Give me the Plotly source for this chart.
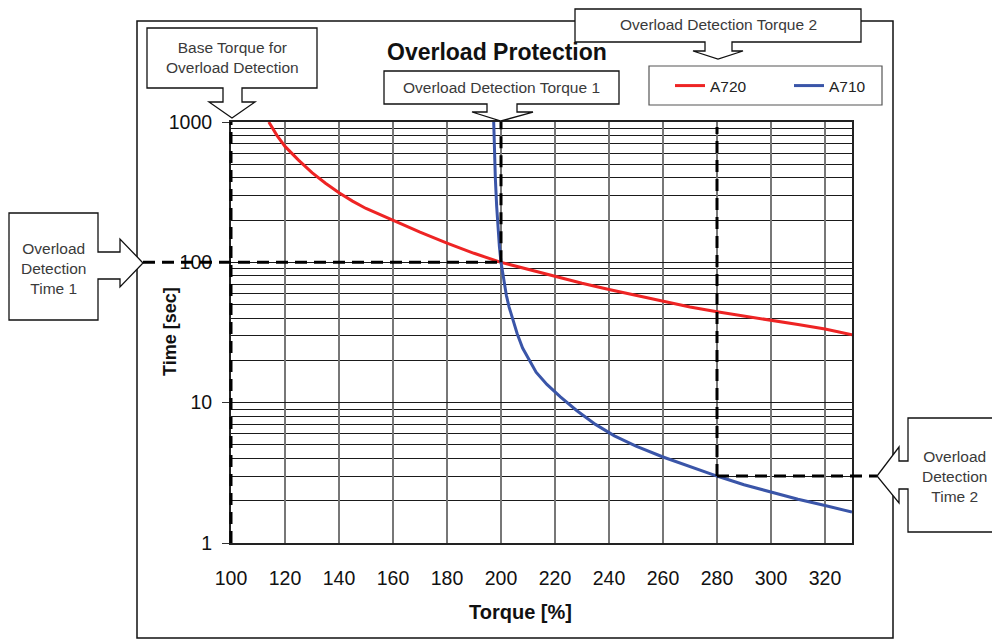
import math
import plotly.graph_objects as go

# axis ranges
x_min, x_max = 100, 330
y_lo, y_hi = 0, 3  # log10 of 1 .. 1000

# A720 curve (torque %, time sec)
torque_a720 = [114, 117, 120, 125, 130, 135, 140, 145, 150, 160, 170, 180, 190, 200, 210,
               220, 230, 240, 250, 260, 270, 280, 290, 300, 310, 320, 330]
time_a720 = [1000, 804, 670, 535, 436, 366, 313, 273, 242, 198, 164, 137, 116, 100, 89,
             79, 71, 64, 58, 52.5, 48, 44.5, 41.5, 39, 36, 33.5, 30.5]

# A710 curve
torque_a710 = [197.3, 197.6, 197.9, 198.4, 198.9, 199.4, 200, 201, 202, 203, 204,
               206, 208, 210, 213, 217, 222, 228, 235, 242, 250, 260, 270, 280,
               290, 300, 310, 320, 330]
time_a710 = [1000, 600, 400, 250, 170, 130, 100, 75, 58, 48, 41,
             31, 24.5, 21, 16.5, 13.5, 11, 8.8, 7.0, 5.8, 4.9, 4.1, 3.5, 3.0,
             2.6, 2.3, 2.05, 1.85, 1.66]

# detection markers
base_torque = 100
det_torque_1 = 200
det_torque_2 = 280
det_time_1 = 100
det_time_2 = 3

x_ticks = list(range(100, 321, 20))

# page geometry (the html body adds an 8px margin)
OFF = 8
W, H = 1000 - OFF, 641 - OFF
L, R, T, B = 231 - OFF, 148, 122 - OFF, 98
PL, PR, PT, PB = 231, 852, 122, 543  # plot area on screen
pw, ph = PR - PL, PB - PT

FONT = 'Liberation Sans, Arial'


def xd(t):
    return (t - x_min) / (x_max - x_min)


def yd(v):
    return (math.log10(v) - y_lo) / (y_hi - y_lo)


def px(x):
    return (x - PL) / pw


def py(y):
    return (PB - y) / ph


def path(points):
    return "M " + " L ".join(f"{px(a):.5f},{py(b):.5f}" for a, b in points) + " Z"


fig = go.Figure()
fig.add_trace(go.Scatter(x=torque_a720, y=time_a720, mode='lines', name='A720',
                         line=dict(color='#ee2424', width=3)))
fig.add_trace(go.Scatter(x=torque_a710, y=time_a710, mode='lines', name='A710',
                         line=dict(color='#3a55a8', width=3)))

shapes = []
# outer frame
shapes.append(dict(type='rect', xref='paper', yref='paper', x0=px(137), x1=px(893),
                   y0=py(21), y1=py(638), line=dict(color='#111', width=1.5), layer='above'))
# legend box
shapes.append(dict(type='rect', xref='paper', yref='paper', x0=px(649), x1=px(882),
                   y0=py(66), y1=py(105), line=dict(color='#555', width=1.2),
                   fillcolor='white', layer='above'))

dash = dict(color='black', width=3, dash='12px,7px')
# dashed guide lines
shapes.append(dict(type='line', xref='paper', yref='paper', x0=xd(base_torque), x1=xd(base_torque),
                   y0=0, y1=1, line=dash, layer='above'))
shapes.append(dict(type='line', xref='paper', yref='paper', x0=xd(det_torque_1), x1=xd(det_torque_1),
                   y0=yd(det_time_1), y1=1, line=dash, layer='above'))
shapes.append(dict(type='line', xref='paper', yref='paper', x0=px(143), x1=xd(det_torque_1),
                   y0=yd(det_time_1), y1=yd(det_time_1), line=dash, layer='above'))
shapes.append(dict(type='line', xref='paper', yref='paper', x0=xd(det_torque_2), x1=xd(det_torque_2),
                   y0=yd(det_time_2), y1=py(127), line=dash, layer='above'))
shapes.append(dict(type='line', xref='paper', yref='paper', x0=xd(det_torque_2), x1=px(877),
                   y0=yd(det_time_2), y1=yd(det_time_2), line=dash, layer='above'))

# callout boxes with arrows
callouts = [
    [(147, 28), (317, 28), (317, 88), (242, 88), (242, 102), (255, 102), (232, 118),
     (209, 102), (223, 102), (223, 88), (147, 88)],
    [(384, 71), (619, 71), (619, 104), (517, 104), (517, 112), (533, 112), (501, 121),
     (472, 112), (487, 112), (487, 104), (384, 104)],
    [(575, 9), (861, 9), (861, 42), (732, 42), (732, 51), (743, 51), (718, 59),
     (693, 51), (705, 51), (705, 42), (575, 42)],
    [(9, 213), (98, 213), (98, 252), (120, 252), (120, 239), (143, 263), (120, 287),
     (120, 279), (98, 279), (98, 320), (9, 320)],
    [(908, 418), (1010, 418), (1010, 532), (908, 532), (908, 489), (899, 489), (899, 503),
     (877, 476), (899, 447), (899, 461), (908, 461)],
]
for pts in callouts:
    shapes.append(dict(type='path', xref='paper', yref='paper', path=path(pts),
                       fillcolor='white', line=dict(color='#111', width=1.3), layer='above'))

fig.update_layout(shapes=shapes)

callout_font = dict(family=FONT, size=15.5, color='#3a3a3a')
texts = [
    ("Base Torque for<br>Overload Detection", 232, 58),
    ("Overload Detection Torque 1", 501, 88),
    ("Overload Detection Torque 2", 718, 25),
    ("Overload<br>Detection<br>Time 1", 53, 268),
    ("Overload<br>Detection<br>Time 2", 954, 476),
]
for txt, x, y in texts:
    fig.add_annotation(text=txt, x=px(x), y=py(y), xref='paper', yref='paper',
                       showarrow=False, font=callout_font, xanchor='center', yanchor='middle')

fig.add_annotation(text="<b>Overload Protection</b>", x=px(497), y=py(52), xref='paper', yref='paper',
                   xanchor='center', yanchor='middle', showarrow=False,
                   font=dict(family=FONT, size=23, color='#111'))
fig.add_annotation(text="<b>Torque [%]</b>", x=px(520), y=py(612), xref='paper', yref='paper',
                   xanchor='center', yanchor='middle', showarrow=False,
                   font=dict(family=FONT, size=20, color='#111'))
fig.add_annotation(text="<b>Time [sec]</b>", x=px(170), y=py(332), xref='paper', yref='paper',
                   xanchor='center', yanchor='middle', textangle=-90, showarrow=False,
                   font=dict(family=FONT, size=18, color='#111'))

fig.update_xaxes(range=[x_min, x_max], tickvals=x_ticks, showgrid=True, gridcolor='#777', gridwidth=1.5,
                 showline=True, linecolor='#222', linewidth=2, mirror=True, ticks='',
                 ticklabelstandoff=17, zeroline=False,
                 tickfont=dict(family=FONT, size=19.5, color='#111'))
fig.update_yaxes(type='log', range=[y_lo, y_hi], dtick=1, showgrid=True, gridcolor='#1a1a1a', gridwidth=1,
                 minor=dict(dtick='D1', showgrid=True, gridcolor='#1a1a1a', gridwidth=1, ticks=''),
                 showline=True, linecolor='#222', linewidth=2, mirror=True,
                 ticks='outside', ticklen=7, tickcolor='#333', ticklabelstandoff=6,
                 tickfont=dict(family=FONT, size=19.5, color='#111'))

fig.update_layout(
    width=W, height=H,
    margin=dict(l=L, r=R, t=T, b=B),
    paper_bgcolor='white', plot_bgcolor='white',
    showlegend=True,
    legend=dict(orientation='h', x=px(670), y=py(69), xanchor='left', yanchor='top',
                borderwidth=0, bgcolor='rgba(0,0,0,0)',
                entrywidth=74, font=dict(family=FONT, size=15.5, color='#222')),
)

fig.write_html("out.html")
